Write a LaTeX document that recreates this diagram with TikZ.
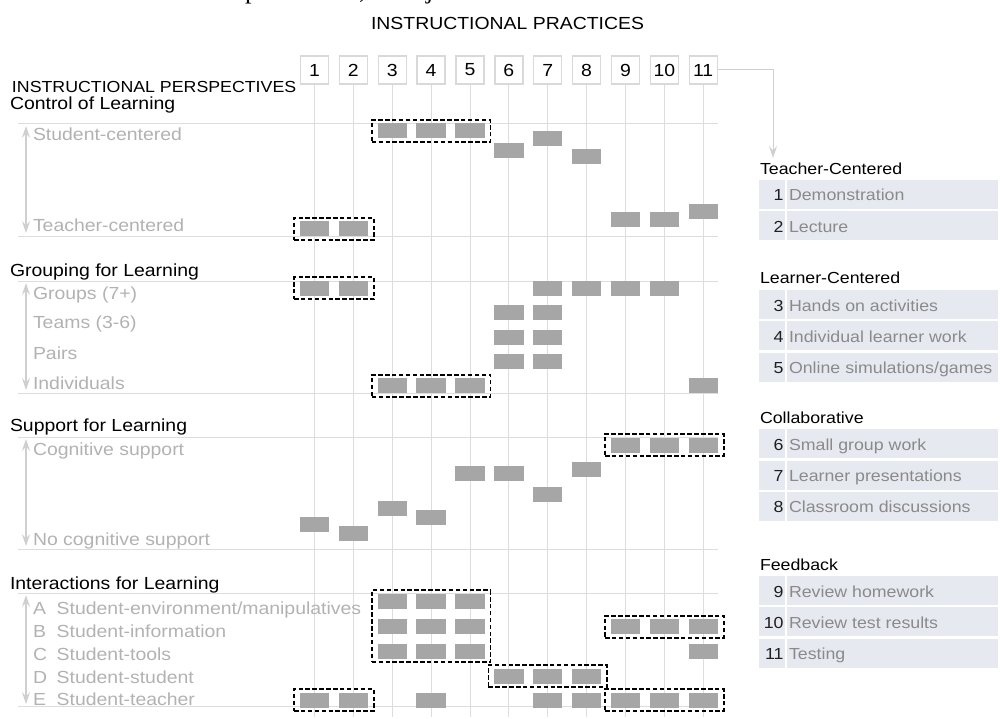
\documentclass[tikz,border=0pt]{standalone}
\usepackage{fontspec}
\setmainfont{Liberation Sans}[FakeStretch=1.11]
\newfontfamily\capserif{Liberation Serif}
\usetikzlibrary{arrows.meta,fit}

\definecolor{gridc}{HTML}{DDDDDD}
\definecolor{labc}{HTML}{B2B2B2}
\definecolor{barc}{HTML}{A6A6A6}
\definecolor{legbg}{HTML}{E7E9F1}
\definecolor{legtx}{HTML}{8A8A8A}
\definecolor{boxc}{HTML}{D9D9D9}
\definecolor{arrc}{HTML}{CFCFCF}

\newcommand\szmain{\fontsize{17.5}{20}\selectfont}
\newcommand\szpersp{\fontsize{16}{19}\selectfont}
\newcommand\szleg{\fontsize{16}{19}\selectfont}
\newcommand\szcap{\capserif\fontsize{26}{28}\selectfont}
% one bar of the chart: name, column, vertical centre
\newcommand\blk[3]{\node[blk] (#1) at ({314.5+38.87*(#2-1)},#3) {};}
% one legend entry: name, top edge, number, text
\newcommand\legrow[4]{%
  \fill[legbg] (759.3,#2) rectangle (785,#2+29);
  \fill[legbg] (787.3,#2) rectangle (998,#2+29);
  \node[legnum] (#1n) at (783.5,#2+21) {#3};
  \node[legitem] (#1t) at (789,#2+21) {#4};}

\begin{document}
\begin{tikzpicture}[x=1pt,y=-1pt,
  txt/.style={inner sep=0,outer sep=0},
  head/.style={txt,anchor=base west,font=\szmain,text=black},
  sub/.style={txt,anchor=base west,font=\szmain,text=labc},
  numbox/.style={draw=boxc,line width=1.3pt,minimum width=28pt,minimum height=28pt,inner sep=0,font=\szmain},
  gridline/.style={draw=gridc,line width=0.9pt},
  blk/.style={fill=barc,minimum width=29.3pt,minimum height=15pt,inner sep=0,draw=none},
  grp/.style={draw=black,dash pattern=on 4.5pt off 2.4pt,line width=1.7pt,inner xsep=5.6pt,inner ysep=3.3pt},
  scalearrow/.style={draw=arrc,line width=1.2pt,{Stealth[length=12pt,width=8pt,inset=4.5pt]}-{Stealth[length=12pt,width=8pt,inset=4.5pt]}},
  conn/.style={draw=arrc,line width=1pt,-{Stealth[length=12pt,width=8pt,inset=4.5pt]}},
  leghead/.style={txt,anchor=base west,font=\szleg,text=black},
  legnum/.style={txt,anchor=base east,font=\szleg,text=black!88},
  legitem/.style={txt,anchor=base west,font=\szleg,text=legtx},
  capfrag/.style={txt,anchor=base west,font=\szcap}]
\useasboundingbox (0,0) rectangle (1000,719);

% lower edge of the caption line above the chart
\begin{scope}
  \clip (0,0) rectangle (1000,20);
  \node[capfrag] (cap1) at (245,-1.5) {p};
  \node[capfrag] (cap2) at (359,-1.5) {,};
  \node[capfrag] (cap3) at (426,-1.5) {j};
\end{scope}

% titles
\node[head] (practices) at (371,30) {INSTRUCTIONAL PRACTICES};
\node[txt,anchor=base west,font=\szpersp] (persp) at (12,93) {INSTRUCTIONAL PERSPECTIVES};

% column boxes and their guide lines
\foreach \i in {1,...,11}{
  \pgfmathsetmacro\cx{314.5+38.87*(\i-1)}
  \node[numbox] (n\i) at (\cx,70) {\i};
  \coordinate (f\i) at (\cx,717);
  \draw[gridline] (n\i.south) -- (f\i);
}

% connector from the last box to the legend
\coordinate (turn) at (773,70);
\coordinate (legtip) at (773,158);
\draw[conn] (n11.east) -- (turn) -- (legtip);

% section rules
\foreach \y/\nm in {123.3/a,236/b,281/c,393.3/d,437.3/e,549/f,593.3/g,706.7/h}{
  \coordinate (rl\nm) at (18,\y);
  \coordinate (rr\nm) at (718,\y);
  \draw[gridline] (rl\nm) -- (rr\nm);
}

% section headings and scale labels
\node[head] (hctl) at (10,109.5) {Control of Learning};
\node[sub] (lsc) at (33,141) {Student-centered};
\node[sub] (ltc) at (33,231.7) {Teacher-centered};
\coordinate (sa1) at (26,126); \coordinate (sa2) at (26,233);
\draw[scalearrow] (sa1) -- (sa2);

\node[head] (hgrp) at (10,276) {Grouping for Learning};
\node[sub] (lg7) at (33,299) {Groups (7+)};
\node[sub] (lt3) at (33,328) {Teams (3-6)};
\node[sub] (lpr) at (33,359) {Pairs};
\node[sub] (lin) at (33,389) {Individuals};
\coordinate (sb1) at (26,283); \coordinate (sb2) at (26,390);
\draw[scalearrow] (sb1) -- (sb2);

\node[head] (hsup) at (10,431.7) {Support for Learning};
\node[sub] (lcs) at (33,455.5) {Cognitive support};
\node[sub] (lnc) at (33,545.6) {No cognitive support};
\coordinate (sc1) at (26,439); \coordinate (sc2) at (26,546);
\draw[scalearrow] (sc1) -- (sc2);

\node[head] (hint) at (10,589.3) {Interactions for Learning};
\foreach \y/\l/\t in {614/A/Student-environment\slash manipulatives,637/B/Student-information,660/C/Student-tools,683/D/Student-student,705.5/E/Student-teacher}{
  \node[sub] (li\l) at (33,\y) {\l};
  \node[sub] (lt\l) at (56.7,\y) {\t};
}
\coordinate (sd1) at (26,595); \coordinate (sd2) at (26,704);
\draw[scalearrow] (sd1) -- (sd2);

% Control of Learning
\blk{a3}{3}{131}\blk{a4}{4}{131}\blk{a5}{5}{131}
\blk{a6}{6}{151}\blk{a7}{7}{139}\blk{a8}{8}{157}
\blk{a1}{1}{229}\blk{a2}{2}{229}
\blk{a9}{9}{219.5}\blk{a10}{10}{219.5}\blk{a11}{11}{212}
\node[grp,fit=(a3)(a5)] (ga1) {};
\node[grp,fit=(a1)(a2)] (ga2) {};

% Grouping for Learning
\blk{b1}{1}{288.3}\blk{b2}{2}{288.3}
\blk{b7}{7}{288.3}\blk{b8}{8}{288.3}\blk{b9}{9}{288.3}\blk{b10}{10}{288.3}
\blk{bt6}{6}{312.2}\blk{bt7}{7}{312.2}
\blk{bp6}{6}{337.2}\blk{bp7}{7}{337.2}
\blk{bq6}{6}{361.5}\blk{bq7}{7}{361.5}
\blk{bi3}{3}{385.8}\blk{bi4}{4}{385.8}\blk{bi5}{5}{385.8}\blk{bi11}{11}{385.8}
\node[grp,fit=(b1)(b2)] (gb1) {};
\node[grp,fit=(bi3)(bi5)] (gb2) {};

% Support for Learning
\blk{c9}{9}{445}\blk{c10}{10}{445}\blk{c11}{11}{445}
\blk{c1}{1}{524.5}\blk{c2}{2}{533.2}\blk{c3}{3}{508}\blk{c4}{4}{517.8}
\blk{c5}{5}{473.8}\blk{c6}{6}{473.8}\blk{c7}{7}{494.2}\blk{c8}{8}{469.5}
\node[grp,fit=(c9)(c11)] (gc1) {};

% Interactions for Learning
\blk{dA3}{3}{601.3}\blk{dA4}{4}{601.3}\blk{dA5}{5}{601.3}
\blk{dB3}{3}{626.7}\blk{dB4}{4}{626.7}\blk{dB5}{5}{626.7}
\blk{dB9}{9}{626.7}\blk{dB10}{10}{626.7}\blk{dB11}{11}{626.7}
\blk{dC3}{3}{651.3}\blk{dC4}{4}{651.3}\blk{dC5}{5}{651.3}\blk{dC11}{11}{651.3}
\blk{dD6}{6}{676.2}\blk{dD7}{7}{676.2}\blk{dD8}{8}{676.2}
\blk{dE1}{1}{700}\blk{dE2}{2}{700}\blk{dE4}{4}{700}\blk{dE7}{7}{700}\blk{dE8}{8}{700}
\blk{dE9}{9}{700}\blk{dE10}{10}{700}\blk{dE11}{11}{700}
\node[grp,fit=(dA3)(dC5)] (gd1) {};
\node[grp,fit=(dB9)(dB11)] (gd2) {};
\node[grp,fit=(dD6)(dD8)] (gd3) {};
\node[grp,fit=(dE1)(dE2)] (gd4) {};
\node[grp,fit=(dE9)(dE11)] (gd5) {};

% legend
\node[leghead] (kh1) at (760,175) {Teacher-Centered};
\legrow{k1}{180}{1}{Demonstration}
\legrow{k2}{211.3}{2}{Lecture}
\node[leghead] (kh2) at (760,283.3) {Learner-Centered};
\legrow{k3}{290}{3}{Hands on activities}
\legrow{k4}{321.3}{4}{Individual learner work}
\legrow{k5}{352.6}{5}{Online simulations/games}
\node[leghead] (kh3) at (760,423.3) {Collaborative};
\legrow{k6}{429.3}{6}{Small group work}
\legrow{k7}{460.6}{7}{Learner presentations}
\legrow{k8}{491.9}{8}{Classroom discussions}
\node[leghead] (kh4) at (760,570) {Feedback};
\legrow{k9}{576}{9}{Review homework}
\legrow{k10}{607.3}{10}{Review test results}
\legrow{k11}{638.6}{11}{Testing}
\end{tikzpicture}
\end{document}
